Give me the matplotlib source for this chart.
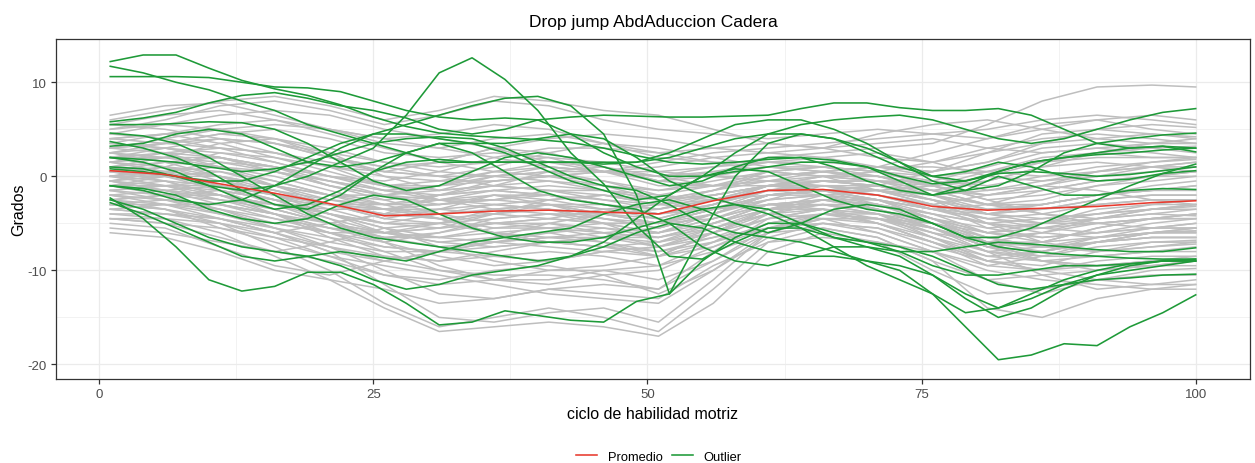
import matplotlib
matplotlib.use("Agg")
import matplotlib.pyplot as plt
from matplotlib.lines import Line2D
from matplotlib.ticker import FixedLocator

plt.rcParams['font.family'] = ['Liberation Sans', 'DejaVu Sans']
plt.rcParams['axes.unicode_minus'] = False

# ---------------- data ----------------
x_gray = [1, 6, 11, 16, 21, 26, 31, 36, 41, 46, 51, 56, 61, 66, 71, 76, 81, 86, 91, 96, 100]
x_green = [1, 4, 7, 10, 13, 16, 19, 22, 25, 28, 31, 34, 37, 40, 43, 46, 49, 52, 55, 58,
           61, 64, 67, 70, 73, 76, 79, 82, 85, 88, 91, 94, 97, 100]

promedio = [0.6, 0.2, -0.8, -1.8, -2.9, -4.2, -4.0, -3.7, -3.6, -3.8, -4.0, -2.6, -1.5, -1.4,
            -2.0, -3.2, -3.6, -3.4, -3.2, -2.8, -2.6]

g01 = [6.5, 7.5, 7.8, 6.5, 5.0, 4.0, 4.5, 5.5, 5.0, 3.5, 2.5, 3.0, 3.5, 3.0, 2.0, 1.5, 2.5, 3.5, 4.0, 4.5, 4.2]
g02 = [5.0, 6.0, 7.5, 8.0, 7.0, 5.5, 6.5, 8.0, 7.5, 6.0, 5.0, 4.5, 4.0, 4.5, 5.0, 4.5, 4.0, 5.0, 6.0, 6.5, 6.0]
g03 = [4.0, 4.5, 3.5, 2.0, 1.0, 0.5, 1.5, 3.0, 2.5, 1.0, -0.5, 0.0, 1.0, 0.5, -0.5, -1.0, 0.0, 1.5, 2.5, 3.0, 3.2]
g04 = [3.0, 3.5, 4.5, 4.0, 2.5, 0.0, -1.5, -1.0, 0.5, 1.0, 0.0, -1.0, -0.5, 0.5, 1.0, 0.0, -1.5, -1.0, 0.0, 1.0, 1.5]
g05 = [2.0, 1.0, -0.5, -2.0, -3.0, -3.5, -2.5, -1.5, -2.0, -3.0, -3.5, -2.0, -1.0, -1.5, -2.5, -3.5, -4.0, -3.0, -2.0, -1.5, -1.0]
g06 = [1.0, 0.5, -1.0, -3.0, -5.0, -6.5, -6.0, -4.5, -4.0, -5.0, -6.0, -4.0, -2.0, -1.5, -2.5, -4.5, -6.0, -5.5, -4.5, -4.0, -4.2]
g07 = [0.0, -0.5, -2.0, -4.0, -6.5, -8.5, -9.0, -8.0, -7.0, -7.5, -8.5, -6.0, -3.5, -3.0, -4.0, -6.0, -8.0, -8.5, -7.5, -7.0, -7.0]
g08 = [-1.0, -2.0, -3.5, -5.5, -7.5, -10.0, -12.5, -13.0, -12.0, -11.5, -12.0, -8.0, -4.5, -3.5, -4.5, -6.5, -8.5, -9.0, -8.5, -8.0, -8.0]
g09 = [-2.0, -3.0, -4.5, -6.0, -8.0, -11.5, -15.0, -15.5, -14.5, -14.0, -15.5, -11.0, -6.0, -4.0, -5.0, -7.0, -9.5, -10.0, -9.0, -8.5, -8.5]
g10 = [-3.0, -3.5, -5.0, -7.5, -10.0, -13.5, -16.0, -15.0, -14.0, -15.0, -16.5, -12.0, -7.0, -5.5, -6.5, -9.0, -11.0, -10.5, -10.0, -9.5, -9.5]
g11 = [-4.0, -4.5, -6.0, -8.5, -11.0, -14.0, -16.5, -16.0, -15.5, -16.0, -17.0, -13.5, -8.0, -6.0, -7.0, -10.0, -12.5, -12.0, -11.0, -10.5, -10.5]
g12 = [-5.5, -6.0, -7.0, -8.0, -9.0, -10.5, -11.0, -10.0, -9.5, -10.5, -12.5, -10.0, -6.5, -5.0, -5.5, -7.5, -9.0, -10.0, -11.0, -11.5, -11.5]
g13 = [-6.0, -6.5, -8.0, -10.0, -11.0, -12.0, -13.5, -13.0, -12.0, -12.5, -13.0, -9.5, -7.0, -6.5, -7.0, -8.0, -10.0, -11.0, -11.5, -12.0, -12.0]
g14 = [-5.0, -5.5, -7.5, -9.5, -10.5, -9.0, -8.0, -8.5, -9.0, -8.0, -7.5, -6.5, -5.5, -5.0, -6.0, -8.0, -11.0, -12.5, -11.0, -10.0, -9.8]
g15 = [-4.5, -5.0, -6.5, -8.0, -7.0, -5.5, -5.0, -6.0, -7.0, -6.5, -6.0, -4.5, -3.0, -3.5, -5.0, -7.0, -9.0, -9.5, -8.0, -7.0, -6.8]
g16 = [-3.5, -4.0, -5.0, -6.0, -5.0, -4.0, -4.5, -6.0, -7.0, -7.5, -7.0, -5.0, -3.0, -2.5, -3.5, -5.5, -7.5, -8.0, -7.0, -6.0, -5.8]
g17 = [-3.0, -2.5, -3.0, -4.5, -6.0, -7.0, -6.0, -5.0, -5.5, -6.5, -7.5, -6.0, -4.0, -3.0, -3.0, -4.5, -7.0, -9.0, -10.0, -9.5, -9.0]
g18 = [-2.5, -2.0, -2.5, -3.5, -5.0, -6.5, -7.5, -7.0, -6.0, -5.5, -6.0, -5.0, -3.5, -2.0, -1.5, -3.0, -5.5, -6.5, -6.0, -5.0, -4.5]
g19 = [-2.0, -1.5, -1.0, -2.0, -3.5, -5.0, -5.5, -5.0, -4.5, -5.0, -6.0, -4.5, -2.5, -1.0, -1.0, -2.5, -4.0, -4.5, -4.0, -3.5, -3.2]
g20 = [-1.5, -1.0, -0.5, -1.5, -3.0, -4.5, -3.5, -2.0, -2.5, -3.5, -4.5, -3.0, -1.0, 0.0, -0.5, -2.0, -3.5, -3.0, -2.0, -1.5, -1.5]
g21 = [-1.0, 0.0, 0.5, -0.5, -2.0, -3.0, -2.0, -0.5, 0.0, -1.0, -2.5, -1.5, 0.0, 0.5, 0.0, -1.5, -3.0, -2.5, -1.0, 0.0, 0.5]
g22 = [-0.5, 0.5, 1.5, 1.0, -0.5, -2.0, -3.0, -2.5, -1.5, -1.5, -2.0, -1.0, 0.5, 1.0, 0.5, -0.5, -1.0, 0.0, 1.0, 1.5, 1.8]
g23 = [0.0, 1.0, 2.5, 2.0, 0.5, -1.0, -1.5, -1.0, -0.5, -1.0, -1.5, -0.5, 0.5, 0.0, -1.5, -3.0, -4.0, -3.5, -2.5, -2.0, -2.0]
g24 = [0.5, 1.5, 2.0, 1.0, -1.0, -2.5, -4.0, -5.0, -4.5, -3.5, -3.0, -2.0, -1.0, -1.0, -1.5, -2.5, -5.0, -7.0, -8.0, -7.5, -7.2]
g25 = [1.0, 1.5, 1.0, -0.5, -2.0, -3.5, -3.0, -2.0, -3.0, -4.5, -5.5, -4.0, -2.0, -1.5, -2.0, -3.0, -2.0, -1.0, -1.5, -2.5, -3.0]
g26 = [1.5, 2.5, 3.0, 2.5, 1.0, -1.0, -2.5, -3.5, -4.0, -4.0, -4.5, -3.0, -1.0, 0.0, 0.0, -1.0, -2.5, -4.0, -5.0, -5.5, -5.5]
g27 = [2.0, 3.0, 4.0, 3.5, 2.0, 1.0, 0.0, -1.0, -1.5, -2.0, -3.0, -2.5, -1.5, -1.0, -1.5, -2.0, -1.5, -0.5, 0.5, 1.0, 1.0]
g28 = [2.5, 3.5, 4.5, 5.0, 4.0, 2.5, 2.0, 2.5, 2.0, 0.5, -1.0, -1.0, -0.5, -0.5, -1.0, -2.0, -3.0, -3.0, -2.0, -1.0, -0.5]
g29 = [3.5, 4.5, 5.5, 6.0, 5.0, 3.5, 3.0, 4.0, 4.5, 3.5, 2.0, 1.5, 1.5, 2.0, 2.5, 1.5, 0.0, -0.5, 0.0, 0.5, 1.0]
g30 = [4.5, 5.5, 6.5, 7.0, 6.5, 5.0, 4.0, 3.0, 1.5, 0.5, 1.0, 2.0, 2.5, 2.0, 1.0, 0.5, 1.5, 3.0, 3.5, 3.0, 2.5]
g31 = [5.5, 6.5, 7.0, 6.0, 4.5, 3.0, 1.5, 0.5, 0.0, 0.5, 1.5, 2.5, 3.0, 3.5, 4.0, 4.5, 5.0, 6.0, 6.5, 6.0, 5.5]
g32 = [6.0, 7.0, 8.0, 8.5, 7.5, 6.0, 7.0, 8.5, 8.0, 7.0, 6.5, 5.0, 3.5, 3.0, 3.5, 4.0, 3.0, 2.5, 3.0, 3.5, 3.5]
g33 = [3.0, 2.5, 1.0, -1.0, -3.0, -4.5, -5.0, -4.0, -2.5, -2.0, -3.0, -3.5, -3.0, -2.5, -3.5, -5.0, -7.0, -8.0, -7.0, -6.0, -5.5]
g34 = [2.5, 1.5, 0.0, -2.0, -4.0, -6.0, -7.0, -6.5, -5.0, -4.0, -3.5, -2.5, -1.5, -2.0, -3.5, -5.5, -7.5, -7.0, -5.5, -4.5, -4.0]
g35 = [0.5, -0.5, -2.0, -3.0, -4.0, -5.5, -7.5, -9.0, -10.0, -9.5, -8.5, -6.0, -3.5, -2.5, -3.0, -4.0, -5.0, -6.0, -6.5, -6.0, -5.8]
g36 = [-0.5, -1.5, -3.0, -4.0, -5.5, -7.0, -8.5, -9.5, -9.0, -8.0, -7.5, -5.5, -4.0, -4.5, -6.0, -8.0, -9.5, -8.5, -7.0, -6.5, -6.5]
g37 = [-1.5, -2.5, -4.0, -5.0, -6.0, -8.0, -10.0, -11.0, -11.5, -10.5, -10.0, -7.5, -5.0, -4.0, -4.0, -5.0, -6.5, -7.5, -7.0, -6.0, -5.5]
g38 = [-2.5, -3.5, -5.5, -7.0, -8.5, -9.5, -10.5, -11.5, -12.5, -13.0, -13.5, -10.0, -6.0, -4.5, -5.0, -6.5, -8.0, -7.5, -6.5, -6.0, -6.0]
g39 = [1.5, 0.5, -1.5, -3.5, -5.0, -4.0, -2.0, -1.0, -1.5, -2.5, -3.0, -1.5, 0.5, 1.0, 0.5, -1.0, -2.5, -2.0, -1.0, -0.5, 0.0]
g40 = [3.5, 3.0, 2.0, 0.5, -1.0, -2.0, -1.5, 0.0, 1.0, 0.5, -0.5, 0.5, 1.5, 1.0, 0.0, -1.0, -0.5, 1.0, 2.5, 3.5, 4.0]
g41 = [4.0, 4.5, 5.0, 4.0, 2.0, 0.5, 0.0, 1.0, 2.5, 3.5, 3.0, 2.0, 1.0, 0.5, 1.0, 2.5, 4.0, 5.5, 6.0, 5.0, 4.5]
g42 = [2.0, 2.0, 1.5, 0.5, -0.5, -1.5, -1.0, 0.0, 0.5, -0.5, -2.0, -2.5, -2.0, -1.5, -1.0, 0.5, 2.5, 4.5, 5.0, 4.5, 4.0]
g43 = [-2.0, -2.5, -3.5, -5.0, -6.0, -6.0, -5.0, -3.5, -3.0, -4.0, -5.0, -4.0, -2.5, -2.0, -2.5, -4.0, -6.0, -7.0, -6.5, -5.5, -5.0]
g44 = [-3.0, -3.0, -3.5, -4.5, -5.5, -6.5, -6.5, -5.5, -5.0, -5.5, -6.5, -5.5, -4.0, -3.5, -4.0, -5.5, -8.0, -10.5, -12.0, -11.5, -11.0]
g45 = [-4.0, -4.0, -4.5, -6.0, -8.0, -9.0, -8.0, -6.5, -6.0, -7.0, -8.0, -7.0, -5.5, -5.0, -5.5, -7.0, -9.0, -10.0, -9.5, -9.0, -9.0]
g46 = [0.0, 0.0, -0.5, -1.5, -2.5, -3.0, -3.0, -2.5, -2.0, -2.5, -3.5, -2.5, -1.0, -0.5, -1.0, -2.0, -3.0, -3.5, -3.0, -2.5, -2.5]
g47 = [1.0, 2.0, 3.5, 4.0, 3.0, 1.5, 0.5, 0.0, -0.5, -1.5, -2.5, -2.0, -1.0, -0.5, -1.0, -1.5, -0.5, 1.0, 1.5, 1.0, 0.5]
g48 = [-1.0, -1.0, -1.5, -2.5, -4.0, -5.5, -6.5, -7.0, -7.5, -8.0, -8.5, -7.0, -5.0, -4.0, -4.5, -6.0, -7.0, -6.0, -5.0, -4.5, -4.5]
g49 = [2.5, 3.0, 2.5, 1.5, 0.0, -1.5, -2.0, -1.5, -1.0, -1.5, -2.5, -1.5, -0.5, 0.0, 0.5, 1.5, 3.0, 4.0, 4.5, 4.0, 3.5]
g50 = [3.0, 4.0, 5.0, 5.5, 5.0, 4.0, 3.0, 2.0, 1.0, 0.5, 0.0, 0.0, -0.5, -1.0, -1.5, -1.0, 0.5, 2.0, 2.5, 2.0, 2.0]
g51 = [1.5, 2.0, 2.0, 1.0, 0.0, -1.0, -0.5, 0.5, 1.0, 0.5, 0.0, 1.0, 2.0, 2.5, 3.0, 3.5, 5.5, 8.0, 9.5, 9.7, 9.5]
g52 = [-0.5, -1.0, -2.0, -3.5, -5.0, -6.0, -5.5, -4.0, -3.0, -3.0, -4.0, -3.5, -2.5, -2.0, -2.5, -4.5, -6.0, -5.0, -3.5, -3.0, -3.0]
g53 = [0.5, 0.0, -1.0, -2.5, -4.5, -7.0, -9.5, -11.0, -11.0, -10.0, -9.5, -7.0, -4.0, -2.5, -2.5, -3.5, -4.5, -5.0, -5.0, -4.5, -4.5]
g54 = [-1.5, -1.0, -1.0, -2.0, -3.0, -4.0, -4.5, -4.0, -3.5, -4.0, -5.0, -4.5, -3.0, -3.0, -4.0, -6.5, -9.0, -8.0, -6.5, -6.0, -6.0]
g55 = [4.5, 4.0, 3.0, 1.5, 0.0, -0.5, 0.5, 2.0, 3.0, 3.0, 2.5, 1.5, 0.5, 0.0, -0.5, -0.5, 1.0, 2.5, 3.0, 2.5, 2.0]
g56 = [-2.5, -2.0, -1.5, -2.5, -4.0, -5.0, -4.0, -3.0, -3.5, -5.0, -7.0, -5.5, -3.5, -3.0, -3.5, -5.0, -7.0, -7.0, -5.5, -4.5, -4.0]
g57 = [5.0, 5.5, 5.0, 3.5, 2.0, 1.0, 1.5, 3.0, 4.0, 4.5, 4.0, 3.0, 2.5, 3.0, 4.5, 5.5, 6.0, 5.0, 4.0, 3.5, 3.5]
g58 = [-3.5, -3.0, -3.0, -4.0, -6.0, -7.5, -8.0, -7.0, -6.5, -7.0, -8.5, -7.5, -5.5, -4.5, -4.5, -5.5, -7.5, -9.0, -9.5, -9.0, -8.5]
g59 = [1.0, 0.5, 0.0, -1.0, -2.0, -2.0, -1.0, 0.5, 1.5, 1.0, -0.5, -1.0, -1.0, -1.5, -2.5, -3.5, -3.0, -1.5, -0.5, 0.0, 0.0]
g60 = [-0.5, -1.5, -2.5, -3.0, -3.0, -3.5, -4.5, -6.0, -6.5, -6.0, -5.5, -4.0, -2.0, -1.5, -2.0, -3.0, -4.5, -5.5, -6.0, -5.5, -5.0]
g61 = [-4.5, -5.0, -5.5, -6.5, -7.5, -8.5, -9.0, -8.5, -8.0, -8.5, -9.5, -8.0, -6.0, -5.5, -6.5, -9.0, -14.0, -15.0, -13.0, -12.0, -11.5]
g62 = [0.5, 1.0, 0.5, -1.0, -2.5, -3.5, -4.0, -3.5, -3.0, -3.5, -4.0, -2.5, -1.0, -1.0, -2.0, -3.5, -4.5, -4.0, -3.0, -2.5, -2.5]
g63 = [-1.0, -0.5, -1.0, -2.5, -4.0, -5.0, -5.0, -4.5, -4.0, -4.5, -5.5, -4.0, -2.0, -1.5, -2.0, -3.5, -5.0, -5.5, -5.0, -4.5, -4.0]
g64 = [2.0, 2.5, 2.0, 0.5, -1.0, -2.0, -2.5, -2.0, -2.0, -3.0, -4.0, -3.0, -1.5, -1.0, -1.5, -2.5, -3.5, -3.0, -2.0, -1.5, -1.0]
g65 = [-2.0, -2.5, -3.0, -4.0, -5.0, -6.0, -6.5, -6.0, -5.5, -6.0, -6.5, -5.0, -3.0, -2.5, -3.0, -4.0, -5.0, -4.5, -4.0, -3.5, -3.5]
g66 = [3.5, 3.0, 2.0, 1.0, 0.0, -1.0, -1.0, -0.5, 0.0, -0.5, -1.5, -1.0, 0.0, 0.5, 0.0, -1.0, -2.0, -1.5, -0.5, 0.0, 0.5]
g67 = [-3.5, -4.0, -4.5, -5.5, -6.5, -7.5, -8.0, -7.5, -7.0, -7.5, -8.0, -6.5, -4.5, -3.5, -4.0, -5.5, -7.0, -7.5, -7.0, -6.5, -6.5]
g68 = [1.0, 0.0, -1.5, -2.5, -3.0, -3.0, -2.5, -2.5, -3.0, -4.0, -5.0, -3.5, -1.5, -0.5, -0.5, -1.5, -3.0, -4.0, -4.5, -4.0, -3.5]
g69 = [-0.5, 0.0, 0.0, -1.0, -2.0, -2.5, -2.0, -1.5, -2.0, -3.0, -4.0, -3.0, -1.5, -1.5, -3.0, -5.0, -6.5, -6.0, -4.5, -3.5, -3.0]
g70 = [2.5, 2.0, 1.0, 0.0, -1.5, -3.0, -4.5, -5.5, -5.5, -5.0, -5.0, -3.5, -2.0, -1.5, -1.0, -2.0, -4.0, -5.0, -4.5, -3.5, -3.0]
g71 = [-1.5, -2.0, -2.0, -3.0, -4.5, -6.0, -7.0, -7.5, -7.0, -6.5, -6.5, -5.0, -3.5, -3.5, -5.0, -7.0, -8.5, -8.0, -7.0, -6.5, -6.5]
g72 = [0.0, 0.5, 1.0, 0.5, -0.5, -1.5, -2.5, -3.0, -2.5, -2.0, -2.5, -2.0, -1.0, -0.5, -0.5, -1.5, -2.0, -1.0, 0.5, 1.5, 2.0]
g73 = [1.5, 1.0, 0.0, -1.5, -3.0, -4.0, -3.5, -3.0, -3.5, -4.5, -5.0, -3.5, -2.0, -2.0, -3.0, -4.5, -5.5, -5.0, -4.0, -3.0, -2.5]
g74 = [-2.5, -3.0, -4.0, -5.5, -7.0, -8.0, -8.0, -7.0, -6.5, -6.5, -7.0, -6.0, -4.5, -4.0, -4.5, -5.0, -6.0, -6.5, -6.0, -5.5, -5.5]
g75 = [4.0, 3.5, 3.0, 2.5, 1.5, 0.5, 0.0, 0.0, 0.5, 0.5, 0.0, 0.5, 1.0, 1.0, 0.5, 0.0, 0.5, 1.5, 2.0, 2.0, 2.0]
g76 = [-4.5, -4.5, -5.0, -6.5, -8.5, -10.5, -11.5, -11.0, -10.0, -10.0, -11.0, -9.0, -6.0, -4.5, -4.5, -5.5, -7.5, -8.5, -8.5, -8.0, -7.5]
g77 = [0.0, -1.0, -2.5, -4.0, -5.5, -6.0, -5.5, -5.0, -5.0, -6.0, -7.5, -6.0, -3.5, -2.5, -3.0, -4.5, -6.5, -7.5, -8.0, -7.5, -7.0]
g78 = [-1.0, -1.5, -2.0, -3.0, -3.5, -3.5, -3.5, -4.0, -4.5, -5.0, -5.0, -3.5, -2.0, -1.5, -1.5, -2.5, -4.0, -3.5, -2.5, -2.0, -2.0]
g79 = [5.5, 5.0, 4.0, 2.5, 1.0, 0.0, -0.5, -0.5, 0.0, 0.5, 0.5, 1.0, 1.5, 1.5, 1.0, 0.5, 1.5, 3.5, 5.0, 5.5, 5.2]
g80 = [-3.0, -3.5, -4.5, -6.0, -7.5, -9.0, -10.0, -10.5, -10.5, -11.0, -12.0, -9.0, -5.5, -4.0, -4.5, -6.0, -8.0, -9.0, -9.5, -9.5, -9.0]
g81 = [3.0, 3.5, 4.0, 3.5, 2.5, 1.5, 1.0, 1.5, 2.0, 1.5, 0.5, 0.0, 0.0, 0.5, 1.0, 1.0, 0.5, 0.0, 0.5, 1.0, 1.5]

o01 = [12.2, 12.9, 12.9, 11.5, 10.2, 9.3, 8.6, 7.6, 6.3, 5.3, 4.6, 4.3, 4.1, 3.9, 3.6, 3.0, 2.2, 1.5, 1.3, 1.5,
       1.8, 2.0, 1.7, 1.0, 0.0, -0.8, -0.5, 0.3, 0.5, 0.3, 0.0, 0.2, 0.6, 1.0]
o02 = [11.7, 11.0, 10.0, 9.2, 8.0, 7.0, 5.5, 4.5, 3.5, 2.5, 1.5, 1.5, 1.5, 1.5, 1.5, 1.5, 1.5, 2.0, 3.0, 4.0,
       4.5, 4.5, 4.0, 3.0, 1.5, 0.0, -0.5, 0.5, 1.5, 2.0, 2.3, 2.5, 2.8, 3.0]
o03 = [10.6, 10.6, 10.6, 10.5, 10.0, 9.5, 9.4, 9.0, 8.0, 7.0, 6.3, 6.0, 6.2, 6.0, 4.5, 2.5, 1.0, 0.0, 0.0, 0.5,
       1.0, 1.5, 1.5, 1.0, -0.5, -2.0, -1.5, 0.0, -1.0, -2.0, -2.0, -1.5, -1.3, -1.4]
o04 = [5.8, 6.2, 6.8, 7.8, 8.6, 8.9, 8.3, 7.5, 7.0, 6.2, 5.0, 4.5, 5.0, 6.0, 6.3, 6.5, 6.4, 6.3, 6.3, 6.4,
       6.5, 7.2, 7.8, 7.8, 7.3, 7.0, 7.0, 7.2, 6.5, 5.0, 3.5, 3.0, 3.2, 3.0]
o05 = [5.5, 5.5, 5.6, 5.8, 5.7, 5.0, 3.5, 1.5, -0.5, -1.5, -1.0, 0.5, 2.0, 2.5, 2.0, 1.0, 0.0, -1.0, -0.5, 1.0,
       2.0, 2.0, 1.0, -0.5, -1.5, -2.0, -1.0, 0.5, 1.5, 2.0, 2.5, 3.0, 3.2, 2.6]
o06 = [4.6, 4.3, 3.5, 2.0, 0.0, -2.0, -4.0, -5.5, -6.5, -7.0, -7.5, -8.0, -8.5, -9.0, -8.5, -7.0, -4.5, -2.0, 0.0, 0.8,
       0.5, -1.0, -2.5, -3.5, -4.0, -5.0, -6.5, -7.5, -8.0, -8.3, -8.5, -8.7, -8.8, -8.8]
o07 = [3.7, 3.0, 2.0, 0.5, -1.5, -3.0, -3.5, -2.0, 0.5, 2.5, 3.5, 3.5, 2.5, 1.0, -0.5, -1.5, -2.5, -2.0, 0.0, 2.5,
       4.5, 5.5, 6.0, 6.3, 6.5, 6.0, 5.0, 4.0, 3.5, 4.0, 5.0, 6.0, 6.8, 7.2]
o08 = [2.0, 1.8, 1.5, 1.0, 0.5, 0.8, 1.5, 2.5, 3.5, 4.0, 4.2, 4.0, 3.0, 1.5, 0.0, -1.0, -1.5, -3.0, -5.0, -6.0,
       -6.5, -7.0, -8.0, -9.0, -9.5, -10.5, -12.5, -14.0, -13.0, -11.5, -10.5, -9.5, -9.0, -9.0]
o09 = [1.0, 0.8, 0.0, -1.0, -1.5, -1.0, 0.0, 1.5, 3.0, 6.5, 11.0, 12.6, 10.3, 7.0, 2.5, -0.8, -5.3, -8.5, -8.8, -7.0,
       -5.5, -5.5, -6.5, -7.5, -8.0, -8.0, -7.5, -7.0, -7.2, -7.5, -7.8, -8.0, -8.0, -7.6]
o10 = [-1.0, -1.5, -2.5, -3.0, -2.5, -1.0, 1.0, 3.0, 4.5, 5.5, 6.5, 7.5, 8.3, 8.5, 7.5, 4.5, -2.0, -12.5, -6.0, 0.0,
       3.5, 4.5, 4.0, 2.5, 1.0, 0.0, 0.5, 1.5, 1.0, 0.0, -0.5, -0.3, 0.3, 0.6]
o11 = [-2.3, -4.5, -7.5, -11.0, -12.2, -11.7, -10.2, -10.2, -11.5, -13.5, -15.8, -15.5, -14.3, -14.8, -15.3, -15.5, -13.3, -12.5, -9.0, -6.5,
       -5.0, -5.0, -6.0, -7.0, -8.0, -9.5, -10.5, -10.5, -10.0, -9.5, -9.5, -9.3, -9.0, -9.0]
o12 = [-2.5, -3.5, -5.0, -6.5, -7.5, -8.0, -8.5, -9.5, -11.0, -12.0, -11.5, -10.5, -10.0, -9.5, -8.5, -7.5, -6.0, -5.0, -5.5, -7.0,
       -8.0, -8.5, -8.5, -9.0, -10.0, -12.5, -16.0, -19.5, -19.0, -17.8, -18.0, -16.0, -14.5, -12.6]
o13 = [-1.0, -1.3, -2.0, -3.5, -4.5, -5.0, -4.5, -3.0, -2.0, -2.5, -4.0, -5.5, -6.5, -7.0, -7.0, -6.5, -5.5, -4.5, -3.5, -3.0,
       -3.5, -5.0, -6.5, -7.0, -7.5, -8.5, -10.0, -11.5, -12.0, -11.5, -11.0, -10.8, -10.5, -10.4]
o14 = [0.8, 0.5, 0.0, -0.5, -0.5, 0.5, 2.0, 3.5, 4.5, 4.5, 4.0, 3.5, 3.5, 4.0, 4.5, 4.0, 2.0, -0.5, -2.0, -3.0,
       -4.0, -5.5, -7.5, -9.5, -11.0, -12.5, -14.5, -14.0, -12.5, -11.0, -10.0, -9.3, -9.0, -8.8]
o15 = [2.0, 1.5, 0.5, -1.0, -2.5, -3.5, -3.0, -1.5, 0.5, 1.5, 1.8, 1.5, 1.5, 1.5, 1.5, 1.3, 1.5, 2.5, 4.0, 5.5,
       6.0, 6.0, 5.0, 3.5, 1.5, -0.5, -1.5, -1.0, 0.5, 2.5, 3.5, 4.0, 4.4, 4.6]
o16 = [-2.8, -4.0, -5.5, -7.0, -8.5, -9.0, -8.5, -8.0, -8.5, -9.0, -8.0, -7.0, -6.5, -6.0, -5.5, -4.0, -3.0, -2.5, -3.5, -5.0,
       -6.0, -5.0, -3.5, -3.0, -3.5, -5.0, -6.5, -6.5, -5.5, -4.0, -2.5, -1.0, 0.3, 1.3]
o17 = [3.2, 3.5, 4.5, 5.0, 4.5, 3.0, 1.5, 1.0, 1.5, 2.5, 3.5, 2.5, 0.5, -1.5, -2.5, -3.0, -3.5, -5.0, -7.5, -9.0,
       -9.5, -8.5, -7.5, -7.5, -8.5, -10.5, -13.0, -15.0, -14.0, -12.0, -10.5, -10.0, -9.5, -9.0]

gray_lines = [g01, g02, g03, g04, g05, g06, g07, g08, g09, g10, g11, g12, g13, g14, g15, g16, g17,
              g18, g19, g20, g21, g22, g23, g24, g25, g26, g27, g28, g29, g30, g31, g32, g33, g34,
              g35, g36, g37, g38, g39, g40, g41, g42, g43, g44, g45, g46, g47, g48, g49, g50, g51,
              g52, g53, g54, g55, g56, g57, g58, g59, g60, g61, g62, g63, g64, g65, g66, g67, g68,
              g69, g70, g71, g72, g73, g74, g75, g76, g77, g78, g79, g80, g81]
green_lines = [o01, o02, o03, o04, o05, o06, o07, o08, o09, o10, o11, o12, o13, o14, o15, o16, o17]

legend_labels = ['Promedio', 'Outlier']
title = 'Drop jump AbdAduccion Cadera'
xlabel = 'ciclo de habilidad motriz'
ylabel = 'Grados'
x_major = [0, 25, 50, 75, 100]
x_minor = [12.5, 37.5, 62.5, 87.5]
y_major = [-20, -10, 0, 10]
y_minor = [-15, -5, 5]

# ---------------- styling ----------------
GRAY = '#BEBEBE'
GREEN = '#1E9A38'
RED = '#E8392D'

fig = plt.figure(figsize=(12.55, 4.64), dpi=100)
ax = fig.add_axes([0.0446, 0.181, 0.9514, 0.7328])

for ys in gray_lines:
    ax.plot(x_gray, ys, color=GRAY, lw=1.1, zorder=2)
for ys in green_lines:
    ax.plot(x_green, ys, color=GREEN, lw=1.15, zorder=3)
ax.plot(x_gray, promedio, color=RED, lw=1.15, zorder=4)

ax.set_xlim(-3.95, 104.95)
ax.set_ylim(-21.55, 14.6)
ax.xaxis.set_major_locator(FixedLocator(x_major))
ax.xaxis.set_minor_locator(FixedLocator(x_minor))
ax.yaxis.set_major_locator(FixedLocator(y_major))
ax.yaxis.set_minor_locator(FixedLocator(y_minor))
ax.grid(which='major', color='#EBEBEB', lw=0.9, zorder=0)
ax.grid(which='minor', color='#EBEBEB', lw=0.45, zorder=0)
ax.set_axisbelow(True)
for s in ax.spines.values():
    s.set_color('#333333')
    s.set_linewidth(0.9)
ax.tick_params(which='major', length=3.5, width=0.9, color='#333333', labelcolor='#4D4D4D', labelsize=9.5, pad=3)
ax.tick_params(which='minor', length=0)

ax.set_title(title, fontsize=12.5, pad=9, color='black')
ax.set_xlabel(xlabel, fontsize=11.5, labelpad=4)
ax.set_ylabel(ylabel, fontsize=11.5, labelpad=1)

handles = [Line2D([], [], color=RED, lw=1.15), Line2D([], [], color=GREEN, lw=1.15)]
fig.legend(handles, legend_labels, loc='lower center', bbox_to_anchor=(0.525, -0.024), ncol=2,
           frameon=False, fontsize=9.3, handlelength=1.6, columnspacing=0.75, handletextpad=0.85)

fig.savefig('out.png', dpi=100)
